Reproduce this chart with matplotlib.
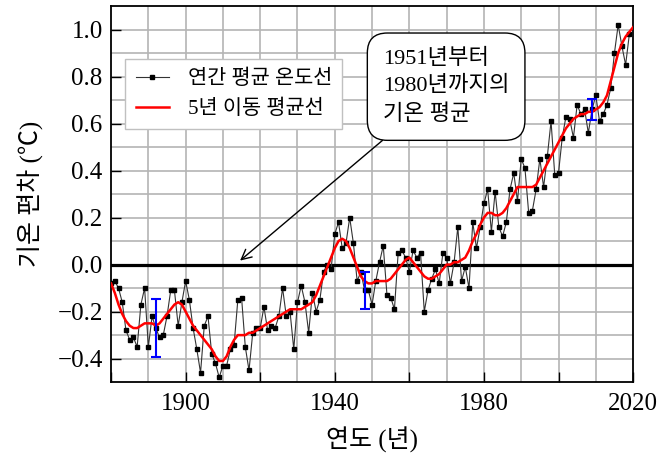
import matplotlib
matplotlib.use("Agg")
import matplotlib.pyplot as plt
import numpy as np

# annual mean temperature anomaly (1880-2019)
years = np.arange(1880, 2020)
annual = [
    -0.08, -0.07, -0.10, -0.16, -0.28, -0.32, -0.31, -0.35, -0.17, -0.10,
    -0.35, -0.22, -0.27, -0.31, -0.30, -0.22, -0.11, -0.11, -0.26, -0.16,
    -0.07, -0.15, -0.27, -0.36, -0.46, -0.26, -0.22, -0.38, -0.42, -0.48,
    -0.43, -0.43, -0.36, -0.34, -0.15, -0.14, -0.35, -0.45, -0.29, -0.27,
    -0.27, -0.18, -0.28, -0.26, -0.27, -0.22, -0.10, -0.22, -0.20, -0.36,
    -0.16, -0.09, -0.16, -0.29, -0.12, -0.20, -0.15, -0.03, 0.00, -0.02,
    0.13, 0.18, 0.07, 0.09, 0.20, 0.09, -0.07, -0.03, -0.11, -0.11,
    -0.17, -0.07, 0.01, 0.08, -0.13, -0.14, -0.19, 0.05, 0.06, 0.03,
    -0.03, 0.06, 0.03, 0.05, -0.20, -0.11, -0.06, -0.02, -0.08, 0.05,
    0.03, -0.08, 0.01, 0.16, -0.07, -0.01, -0.10, 0.18, 0.07, 0.16,
    0.26, 0.32, 0.14, 0.31, 0.16, 0.12, 0.18, 0.32, 0.39, 0.27,
    0.45, 0.41, 0.22, 0.23, 0.32, 0.45, 0.33, 0.46, 0.61, 0.38,
    0.39, 0.54, 0.63, 0.62, 0.54, 0.68, 0.64, 0.66, 0.56, 0.66,
    0.72, 0.61, 0.64, 0.68, 0.75, 0.90, 1.02, 0.93, 0.85, 0.98,
]

# 5-year moving average (1880-2020)
smooth_years = np.arange(1880, 2021)
smooth = [
    -0.08, -0.12, -0.17, -0.21, -0.24, -0.26, -0.27, -0.27, -0.26, -0.25,
    -0.25, -0.25, -0.26, -0.25, -0.23, -0.21, -0.19, -0.17, -0.16, -0.17,
    -0.20, -0.23, -0.26, -0.28, -0.30, -0.32, -0.34, -0.36, -0.39, -0.41,
    -0.41, -0.39, -0.35, -0.32, -0.30, -0.30, -0.30, -0.29, -0.29, -0.28,
    -0.27, -0.26, -0.25, -0.24, -0.23, -0.22, -0.21, -0.20, -0.19, -0.19,
    -0.19, -0.19, -0.18, -0.17, -0.16, -0.13, -0.09, -0.05, -0.01, 0.03,
    0.07, 0.10, 0.11, 0.10, 0.07, 0.03, -0.01, -0.05, -0.07, -0.08,
    -0.08, -0.07, -0.07, -0.07, -0.07, -0.06, -0.04, -0.02, 0.00, 0.02,
    0.03, 0.01, -0.01, -0.03, -0.05, -0.06, -0.06, -0.05, -0.04, -0.02,
    0.00, 0.00, 0.01, 0.01, 0.02, 0.03, 0.06, 0.10, 0.13, 0.17,
    0.20, 0.22, 0.22, 0.21, 0.21, 0.22, 0.24, 0.27, 0.30, 0.33,
    0.33, 0.33, 0.33, 0.33, 0.34, 0.37, 0.40, 0.43, 0.46, 0.49,
    0.52, 0.55, 0.58, 0.60, 0.62, 0.63, 0.64, 0.64, 0.65, 0.65,
    0.66, 0.67, 0.69, 0.72, 0.78, 0.84, 0.90, 0.94, 0.97, 0.99,
    1.01,
]

# uncertainty bars
err_years = [1892, 1948, 2009]
err_vals = [-0.27, -0.11, 0.66]
err_half = [0.125, 0.08, 0.045]

plt.rcParams['font.family'] = ['Liberation Serif', 'Noto Sans CJK KR']

fig = plt.figure(figsize=(6.65, 4.66), dpi=100)
ax = fig.add_axes([0.167, 0.180, 0.785, 0.807])

ax.set_xlim(1880, 2020)
ax.set_ylim(-0.5, 1.1)

# grid every 10 years / 0.1
for gx in range(1890, 2020, 10):
    ax.axvline(gx, color='#b4b4b4', lw=1.2, zorder=0)
for gy in np.arange(-0.4, 1.1, 0.1):
    ax.axhline(gy, color='#b4b4b4', lw=1.2, zorder=0)
ax.axhline(0, color='black', lw=2.3, zorder=1)

ax.plot(years, annual, color='#333333', lw=0.8, marker='s', ms=2.8,
        mfc='black', mec='black', zorder=3, label='연간 평균 온도선')
ax.plot(smooth_years, smooth, color='red', lw=1.8, zorder=4,
        label='5년 이동 평균선')
ax.errorbar(err_years, err_vals, yerr=err_half, fmt='none', ecolor='blue',
            elinewidth=1.5, capsize=3.5, capthick=1.5, zorder=5)

ax.set_xticks(range(1880, 2021, 20))
ax.set_xticklabels([str(y) if (y - 1900) % 40 == 0 else ''
                    for y in range(1880, 2021, 20)])
ax.set_yticks([-0.4, -0.2, 0.0, 0.2, 0.4, 0.6, 0.8, 1.0])
ax.set_yticklabels(['\u22120.4', '\u22120.2', '0.0', '0.2', '0.4', '0.6', '0.8', '1.0'])
ax.tick_params(direction='in', length=7.5, width=1.0, labelsize=18, pad=6)
ax.tick_params(axis='x', pad=8)
for s in ax.spines.values():
    s.set_linewidth(1.3)

ax.set_ylabel('기온 편차 (℃)', fontsize=18)
ax.yaxis.set_label_coords(-0.128, 0.5)
ax.set_xlabel('연도 (년)', fontsize=18)
ax.xaxis.set_label_coords(0.5, -0.118)

leg = ax.legend(loc='upper left', bbox_to_anchor=(0.027, 0.859), fontsize=15,
                fancybox=False, framealpha=1, edgecolor='#c0c0c0',
                borderpad=0.5, borderaxespad=0, handlelength=1.6,
                handletextpad=0.9, labelspacing=0.5)
leg.get_frame().set_linewidth(1.0)

ax.annotate('1951년부터\n1980년까지의\n기온 평균', xy=(1914.6, 0.017),
            xytext=(1952.9, 0.757), fontsize=16, ha='left', va='center',
            linespacing=1.5,
            bbox=dict(boxstyle='round,pad=0.7,rounding_size=0.9', fc='white',
                      ec='black', lw=1.0),
            arrowprops=dict(arrowstyle='->', color='black', lw=1.0,
                            mutation_scale=18, shrinkA=0, shrinkB=0),
            zorder=6)

plt.savefig('out.png', dpi=100)
